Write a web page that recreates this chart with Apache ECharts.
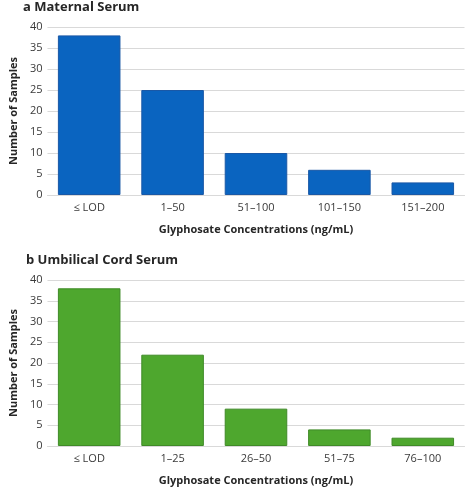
<!DOCTYPE html>
<html>
<head>
<meta charset="utf-8">
<script src="https://cdn.jsdelivr.net/npm/echarts@6/dist/echarts.min.js"></script>
<style>
html,body{margin:0;padding:0;background:#fff;}
#c{width:467px;height:487px;}
</style>
</head>
<body>
<div id="c"></div>
<script>
var maternalCategories = ['≤ LOD', '1–50', '51–100', '101–150', '151–200'];
var maternalValues = [38, 25, 10, 6, 3];
var cordCategories = ['≤ LOD', '1–25', '26–50', '51–75', '76–100'];
var cordValues = [38, 22, 9, 4, 2];
var yTicks = [0, 5, 10, 15, 20, 25, 30, 35, 40];

var FONT = '"Open Sans", "Noto Sans", sans-serif';
var chart = echarts.init(document.getElementById('c'), null, {renderer: 'canvas'});

function yAxis(gridIndex) {
  return {
    gridIndex: gridIndex, type: 'value', min: yTicks[0], max: yTicks[yTicks.length - 1], interval: 5,
    name: 'Number of Samples', nameLocation: 'middle', nameGap: 28, nameRotate: 90,
    nameTextStyle: {fontFamily: FONT, fontWeight: 'bold', fontSize: 11, color: '#262626'},
    axisLine: {show: false}, axisTick: {show: false},
    axisLabel: {fontFamily: FONT, fontSize: 11, color: '#3a3a3a', margin: 5},
    splitLine: {lineStyle: {color: '#d9d9d9', width: 1}}
  };
}
function xAxis(gridIndex, cats) {
  return {
    gridIndex: gridIndex, type: 'category', data: cats,
    name: 'Glyphosate Concentrations (ng/mL)', nameLocation: 'middle', nameGap: 29,
    nameTextStyle: {fontFamily: FONT, fontWeight: 'bold', fontSize: 11, color: '#262626'},
    axisLine: {lineStyle: {color: '#d9d9d9'}}, axisTick: {show: false},
    axisLabel: {fontFamily: FONT, fontSize: 11, color: '#3a3a3a', margin: 7}
  };
}

var titleStyle = {fontFamily: FONT, fontWeight: 'bold', fontSize: 13, color: '#262626'};

chart.setOption({
  animation: false,
  backgroundColor: '#fff',
  title: [
    {text: 'a Maternal Serum', left: 23, top: 1, padding: 0, textStyle: titleStyle},
    {text: 'b Umbilical Cord Serum', left: 26, top: 254, padding: 0, textStyle: titleStyle}
  ],
  grid: [
    {left: 39.5, right: 2.5, top: 27, height: 168},
    {left: 39.5, right: 2.5, top: 280, height: 171}
  ],
  xAxis: [xAxis(0, maternalCategories), xAxis(1, cordCategories)],
  yAxis: [yAxis(0), yAxis(1)],
  series: [
    {type: 'bar', xAxisIndex: 0, yAxisIndex: 0, data: maternalValues, barCategoryGap: '25%',
     itemStyle: {color: '#0a64c0', borderColor: '#1a58a6', borderWidth: 1}},
    {type: 'bar', xAxisIndex: 1, yAxisIndex: 1, data: cordValues, barCategoryGap: '25%',
     itemStyle: {color: '#4ea72e', borderColor: '#3f8a27', borderWidth: 1}}
  ]
});
</script>
</body>
</html>
